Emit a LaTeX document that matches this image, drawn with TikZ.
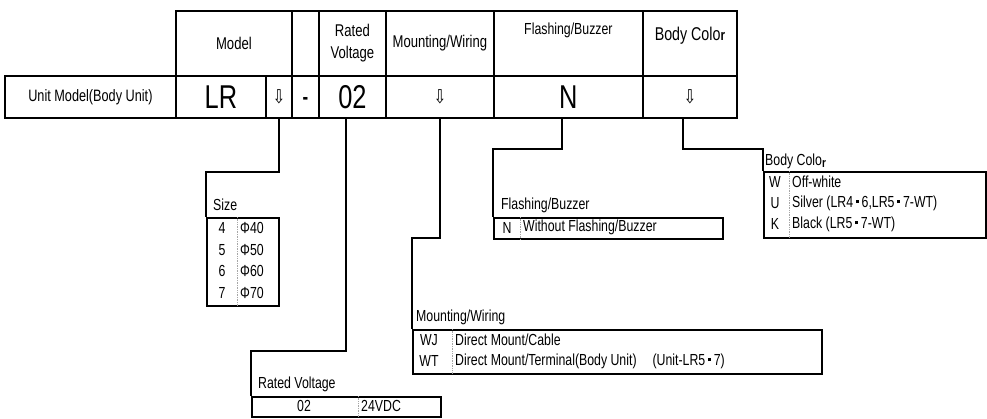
\documentclass[tikz,border=0pt]{standalone}
\usepackage{fontspec}
\setmainfont[FakeStretch=0.77]{Liberation Sans}
\newfontfamily\arrowfont[FakeStretch=0.8]{DejaVu Sans}
\usetikzlibrary{positioning,calc}

% small glyphs used in the cells
\newcommand{\dn}{{\arrowfont\fontsize{19}{19}\selectfont ⇩}}
\newcommand{\kdot}{\,\rule[0.25em]{0.2em}{0.2em}\,}

\tikzset{
  frame/.style={line width=1.8pt},
  hcell/.style={draw, line width=1.8pt, anchor=north west, inner sep=0pt,
    minimum height=65pt, align=center, font=\fontsize{17}{22}\selectfont},
  vcell/.style={draw, line width=1.8pt, anchor=north west, inner sep=0pt,
    minimum height=42pt, font=\fontsize{16.5}{19}\selectfont},
  big/.style={font=\fontsize{33}{33}\selectfont},
  tab/.style={draw, line width=1.8pt, anchor=north west, inner sep=0pt},
  tabtitle/.style={anchor=west, inner sep=0pt, font=\fontsize{16}{19}\selectfont},
  entry/.style={inner sep=0pt, font=\fontsize{16}{19}\selectfont},
  divider/.style={gray!70, line width=0.7pt, densely dotted},
}

\begin{document}
\begin{tikzpicture}[x=1pt, y=-1pt]
  \path[use as bounding box, fill=white] (0,0) rectangle (987,418);

  % header row
  \node[hcell, minimum width=116pt] (hmodel) at (175,10) {Model};
  \node[hcell, minimum width=27pt] (hblank) at (291,10) {};
  \node[hcell, minimum width=67pt] (hvolt) at (318,10) {Rated\\Voltage};
  \node[hcell, minimum width=108pt] (hmount) at (385,10) {Mounting/Wiring};
  \node[hcell, minimum width=149pt, font=\fontsize{16}{19}\selectfont] (hflash) at (493,10) {\raisebox{29pt}{Flashing/Buzzer}};
  \node[hcell, minimum width=94pt, font=\fontsize{18.5}{21}\selectfont] (hcolor) at (642,10) {\raisebox{20pt}{Body Colo{\bfseries\fontsize{15}{15}\selectfont r}}};

  % value row
  \node[vcell, minimum width=171pt] (unit) at (4,75) {Unit Model(Body Unit)};
  \node[vcell, big, minimum width=90pt] (vlr) at (175,75) {LR};
  \node[vcell, minimum width=26pt] (dnsize) at (265,75) {\dn};
  \node[vcell, minimum width=27pt, font=\fontsize{22}{22}\selectfont\bfseries] (vdash) at (291,75) {\strut\raisebox{-3pt}{-}};
  \node[vcell, big, minimum width=67pt] (v02) at (318,75) {02};
  \node[vcell, minimum width=108pt] (dnmount) at (385,75) {\dn};
  \node[vcell, big, minimum width=149pt] (vflash) at (493,75) {N};
  \node[vcell, minimum width=94pt] (dncolor) at (642,75) {\dn};

  % size
  \coordinate (sizebend) at (206,172);
  \node[tab, minimum width=72pt, minimum height=88pt] (sizetab) at (206,217) {};
  \node[tabtitle] (sizettl) at (213,205) {Size};
  \foreach \k/\v [count=\i] in {4/40,5/50,6/60,7/70} {
    \node[entry] (sizek\i) at (222,206+21.8*\i) {\k};
    \node[entry, anchor=west] (sizev\i) at (240,206+21.8*\i) {Φ\v};
  }
  \draw[divider] ([xshift=31pt]sizetab.north west) -- ([xshift=31pt]sizetab.south west);
  \draw[frame] (dnsize.south) |- (sizebend) -- (sizetab.north west);

  % rated voltage
  \coordinate (voltbend) at (251,351);
  \node[tab, minimum width=189pt, minimum height=20pt] (volttab) at (251,396) {};
  \node[tabtitle] (voltttl) at (258,384) {Rated Voltage};
  \node[entry] (voltk) at (304,406) {02};
  \node[entry, anchor=west] (voltv) at (361,406) {24VDC};
  \draw[divider] ([xshift=107pt]volttab.north west) -- ([xshift=107pt]volttab.south west);
  \draw[frame] ([xshift=-6.5pt]v02.south) |- (voltbend) -- (volttab.north west);

  % mounting/wiring
  \coordinate (mountbend) at (412,238);
  \node[tab, minimum width=409pt, minimum height=44pt] (mounttab) at (412,329) {};
  \node[tabtitle] (mountttl) at (416,317) {Mounting/Wiring};
  \node[entry] (mountk1) at (429,340) {WJ};
  \node[entry, anchor=west] (mountv1) at (455,340) {Direct Mount/Cable};
  \node[entry] (mountk2) at (429,361) {WT};
  \node[entry, anchor=west] (mountv2) at (455,361) {Direct Mount/Terminal(Body Unit)\quad(Unit-LR5\kdot7)};
  \draw[divider] ([xshift=40pt]mounttab.north west) -- ([xshift=40pt]mounttab.south west);
  \draw[frame] (dnmount.south) |- (mountbend) -- (mounttab.north west);

  % flashing/buzzer
  \coordinate (flashbend) at (493,149);
  \node[tab, minimum width=229pt, minimum height=21pt] (flashtab) at (493,217) {};
  \node[tabtitle] (flashttl) at (501,205) {Flashing/Buzzer};
  \node[entry] (flashk) at (507,227.5) {N};
  \node[entry, anchor=west] (flashv) at (523,227.5) {Without Flashing/Buzzer};
  \draw[divider] ([xshift=27pt]flashtab.north west) -- ([xshift=27pt]flashtab.south west);
  \draw[frame] ([xshift=-6.5pt]vflash.south) |- (flashbend) -- (flashtab.north west);

  % body color
  \coordinate (colorbend) at (763,149);
  \node[tab, minimum width=222pt, minimum height=66pt] (colortab) at (763,171) {};
  \node[tabtitle] (colorttl) at (765,161) {Body Colo\raisebox{-2pt}{\bfseries\fontsize{13}{13}\selectfont r}};
  \foreach \k/\v [count=\i] in {W/Off-white, U/{Silver (LR4\kdot6,LR5\kdot7-WT)}, K/{Black (LR5\kdot7-WT)}} {
    \node[entry] (colork\i) at (775,161+21*\i) {\k};
    \node[entry, anchor=west] (colorv\i) at (792,161+21*\i) {\v};
  }
  \draw[divider] ([xshift=26pt]colortab.north west) -- ([xshift=26pt]colortab.south west);
  \draw[frame] ([xshift=-7pt]dncolor.south) |- (colorbend) -- (colortab.north west);
\end{tikzpicture}
\end{document}
